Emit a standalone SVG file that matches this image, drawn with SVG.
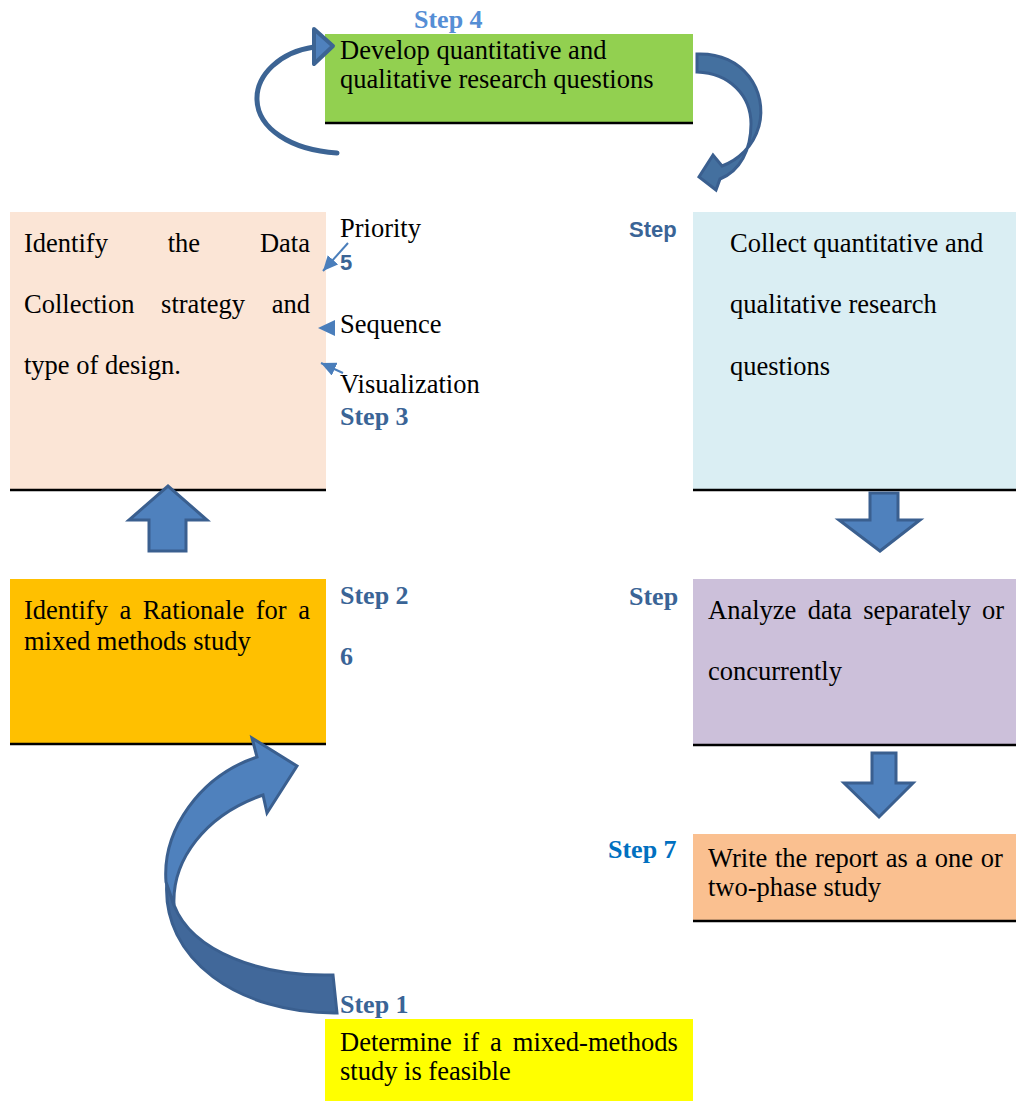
<svg xmlns="http://www.w3.org/2000/svg" width="1016" height="1101" viewBox="0 0 1016 1101">
  <defs>
    <style>
      .body { font-family: 'Liberation Serif', Tinos, 'Times New Roman', serif; font-size: 26.5px; fill: #000; }
      .step { font-family: 'Liberation Serif', Tinos, 'Times New Roman', serif; font-size: 26px; font-weight: bold; fill: #3A6496; }
      .step-sans { font-family: 'Liberation Sans', Arial, sans-serif; font-size: 22px; font-weight: bold; fill: #3A6496; }
      .rule { stroke: #000; stroke-width: 2.5; }
      .block { fill: #4F81BD; stroke: #3A5F8F; stroke-width: 3; stroke-linejoin: miter; }
      .block-dark { fill: #41689A; stroke: #3A5F8F; stroke-width: 3; }
      .thin { stroke: #4A7EBB; stroke-width: 2; fill: none; }
    </style>
    <marker id="tip" markerUnits="userSpaceOnUse" markerWidth="15" markerHeight="14" refX="15" refY="7" orient="auto">
      <path d="M0,0 L15,7 L0,14 z" fill="#4A7EBB"/>
    </marker>
  </defs>

  <rect width="1016" height="1101" fill="#fff"/>

  <!-- Step 4 -->
  <g id="step4">
    <rect x="325" y="34" width="368" height="89" fill="#92D050"/>
    <line class="rule" x1="325" y1="123" x2="693" y2="123"/>
    <text class="body" x="340" y="59">Develop quantitative and</text>
    <text class="body" x="340" y="88">qualitative research questions</text>
    <text class="step" x="414" y="28" style="fill:#558ED5">Step 4</text>
  </g>

  <!-- Step 3 -->
  <g id="step3">
    <rect x="10" y="212" width="316" height="278" fill="#FBE5D6"/>
    <line class="rule" x1="10" y1="490" x2="326" y2="490"/>
    <text class="body" x="24" y="252" word-spacing="53.2">Identify the Data</text>
    <text class="body" x="24" y="313" word-spacing="20.1">Collection strategy and</text>
    <text class="body" x="24" y="374">type of design.</text>
    <text class="body" x="340" y="237">Priority</text>
    <text class="body" x="340" y="333">Sequence</text>
    <text class="body" x="340" y="393">Visualization</text>
    <text class="step" x="340" y="425">Step 3</text>
  </g>

  <!-- Step 5 -->
  <g id="step5">
    <rect x="693" y="212" width="323" height="278" fill="#DAEEF3"/>
    <line class="rule" x1="693" y1="490" x2="1016" y2="490"/>
    <text class="body" x="730" y="252">Collect quantitative and</text>
    <text class="body" x="730" y="313">qualitative research</text>
    <text class="body" x="730" y="375">questions</text>
    <text class="step-sans" x="629" y="237">Step</text>
    <text class="step-sans" x="340" y="270">5</text>
  </g>

  <!-- Step 2 -->
  <g id="step2">
    <rect x="10" y="579" width="316" height="165" fill="#FFC000"/>
    <line class="rule" x1="10" y1="744" x2="326" y2="744"/>
    <text class="body" x="24" y="619" word-spacing="4.9">Identify a Rationale for a</text>
    <text class="body" x="24" y="650">mixed methods study</text>
    <text class="step" x="340" y="604">Step 2</text>
  </g>

  <!-- Step 6 -->
  <g id="step6">
    <rect x="693" y="579" width="323" height="166" fill="#CCC0DA"/>
    <line class="rule" x1="693" y1="745" x2="1016" y2="745"/>
    <text class="body" x="708" y="619" word-spacing="4.8">Analyze data separately or</text>
    <text class="body" x="708" y="680">concurrently</text>
    <text class="step" x="629" y="605">Step</text>
    <text class="step" x="340" y="665">6</text>
  </g>

  <!-- Step 7 -->
  <g id="step7">
    <rect x="693" y="834" width="323" height="87" fill="#FAC090"/>
    <line class="rule" x1="693" y1="921" x2="1016" y2="921"/>
    <text class="body" x="708" y="867" word-spacing="1">Write the report as a one or</text>
    <text class="body" x="708" y="896">two-phase study</text>
    <text class="step" x="608" y="858" style="fill:#0070C0">Step 7</text>
  </g>

  <!-- Step 1 -->
  <g id="step1">
    <rect x="325" y="1019" width="368" height="82" fill="#FFFF00"/>
    <text class="body" x="340" y="1051" word-spacing="4.4">Determine if a mixed-methods</text>
    <text class="body" x="340" y="1080">study is feasible</text>
  </g>

  <!-- Connectors: block arrows, curved arrows and the small pointers, drawn over the boxes -->
  <g id="connectors">
    <!-- loop around step 4 -->
    <path d="M337,153 C290,150 258,128 257,100 C256,75 280,52 314,47" fill="none" stroke="#3C6494" stroke-width="5" stroke-linecap="round"/>
    <path d="M314,29 L333,46 L314,64 Z" fill="#4F81BD" stroke="#3C6494" stroke-width="4" stroke-linejoin="round"/>

    <!-- step 4 to step 5 -->
    <path class="block" style="fill:#44709F" d="M697,54 C744,52 768,92 759,126 C753,147 738,160 722,166 L713,155 L699,177 L716,190 L720,179 C740,171 751,150 751,124 C751,96 730,73 697,72 Z"/>

    <!-- step 5 to step 6 -->
    <path class="block" d="M870,493 L898,493 L898,520 L920,520 L880,551 L839,520 L870,520 Z"/>
    <!-- step 6 to step 7 -->
    <path class="block" d="M872,753 L896,753 L896,783 L913,783 L879,817 L844,783 L872,783 Z"/>
    <!-- step 2 to step 3 -->
    <path class="block" d="M149,551 L186,551 L186,520 L207,520 L168,486 L129,520 L149,520 Z"/>

    <!-- step 1 to step 2 -->
    <path class="block-dark" d="M167,880 C160,960 240,1014 337,1013 L333,975 C262,977 192,952 174,905 Z"/>
    <path class="block" d="M174,905 C172,860 205,815 263,795 L267,813 L297,766 L252,738 L257,757 C200,776 162,830 166,882 Z"/>

    <!-- pointers to the design box -->
    <line class="thin" x1="348" y1="243" x2="323" y2="271" marker-end="url(#tip)"/>
    <path d="M335,320 L318,328 L335,336 Z" fill="#4A7EBB"/>
    <line class="thin" x1="343" y1="373" x2="321" y2="363" marker-end="url(#tip)"/>
  </g>

  <!-- label of step 1 sits over the tail of its arrow -->
  <text class="step" x="340" y="1013">Step 1</text>
</svg>
